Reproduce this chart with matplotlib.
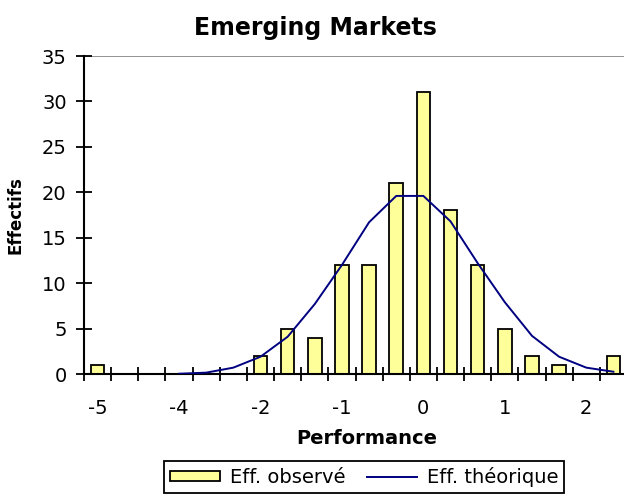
import matplotlib
matplotlib.use("Agg")
import matplotlib.pyplot as plt
import numpy as np

plt.rcParams['font.family'] = ['DejaVu Sans']

# categories (bins), observed counts and the fitted normal curve
categories = list(range(20))
tick_pos = [0, 3, 6, 9, 12, 15, 18]
tick_labels = ["-5", "-4", "-2", "-1", "0", "1", "2"]
observed = [1, 0, 0, 0, 0, 0, 2, 5, 4, 12, 12, 21, 31, 18, 12, 5, 2, 1, 0, 2]
theory_cats = list(range(3, 20))
theory = [0.03, 0.15, 0.7, 1.9, 4.1, 7.7, 12.0, 16.7, 19.6, 19.6,
          16.8, 12.2, 7.9, 4.2, 1.9, 0.7, 0.25]

fig = plt.figure(figsize=(6.24, 4.97), dpi=100)
ax = fig.add_axes([84/624, 1 - 374/497, 543/624, 318/497])

bars = ax.bar(categories, observed, width=0.5, color="#FFFF99", edgecolor="black",
              linewidth=1.3, label="Eff. observé", zorder=2)
line, = ax.plot(theory_cats, theory, color="#000080", linewidth=1.4,
                label="Eff. théorique", zorder=3)

ax.set_xlim(-0.5, 19.5)
ax.set_ylim(0, 35)
ax.set_yticks(np.arange(0, 36, 5))
ax.axhline(35, color="#808080", linewidth=1.2, zorder=1)

ax.set_xticks(tick_pos)
ax.set_xticklabels(tick_labels)
ax.set_xticks(np.arange(-0.5, 20, 1), minor=True)
ax.tick_params(axis="x", which="major", length=0, pad=18, labelsize=14)
ax.tick_params(axis="x", which="minor", direction="inout", length=10, width=1.3)
ax.tick_params(axis="y", direction="inout", length=11, width=1.3, pad=7, labelsize=14)

for s in ["top", "right"]:
    ax.spines[s].set_visible(False)
for s in ["left", "bottom"]:
    ax.spines[s].set_linewidth(1.5)

ax.set_xlabel("Performance", fontsize=14, fontweight="bold")
ax.xaxis.set_label_coords(0.521, -0.172)
ax.set_ylabel("Effectifs", fontsize=12, fontweight="bold")
ax.yaxis.set_label_coords(-0.109, 0.5)

fig.text(315/624, 1 - 28/497, "Emerging Markets", ha="center", va="center",
         fontsize=17, fontweight="bold")

leg = ax.legend([bars, line], ["Eff. observé", "Eff. théorique"],
                loc="center", bbox_to_anchor=(364/624, 1 - 477/497),
                bbox_transform=fig.transFigure, ncol=2, fontsize=14,
                frameon=True, fancybox=False, edgecolor="black", framealpha=1,
                handlelength=2.6, handleheight=0.45, columnspacing=1.1,
                handletextpad=0.5, borderpad=0.3, borderaxespad=0)
leg.get_frame().set_linewidth(1.3)

fig.savefig("out.png", dpi=100)
